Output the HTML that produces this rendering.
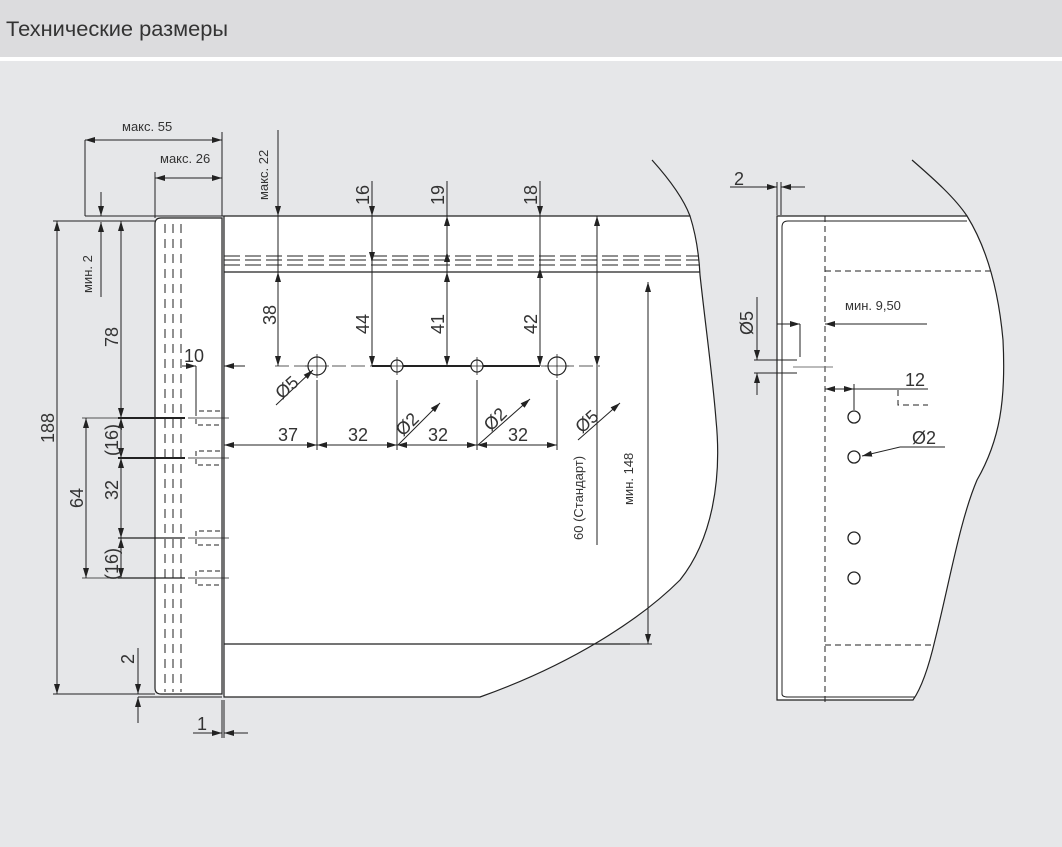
<!DOCTYPE html>
<html><head><meta charset="utf-8"><style>
html,body{margin:0;padding:0;width:1062px;height:847px;overflow:hidden;background:#e6e7e9;}
svg{display:block}
text{font-family:"Liberation Sans","DejaVu Sans",sans-serif;fill:#333;}
</style></head><body>
<svg width="1062" height="847" viewBox="0 0 1062 847" xmlns="http://www.w3.org/2000/svg">
<defs>
<marker id="a" viewBox="0 0 10 6" refX="10" refY="3" markerWidth="10" markerHeight="6" markerUnits="userSpaceOnUse" orient="auto-start-reverse"><path d="M0,0 L10,3 L0,6 z" fill="#222"/></marker>
</defs>
<rect x="0" y="0" width="1062" height="57" fill="#dcdcde"/>
<rect x="0" y="57" width="1062" height="4" fill="#fff"/>
<text x="6" y="36" font-size="21" fill="#2a2a2a" textLength="222" lengthAdjust="spacingAndGlyphs">Технические размеры</text>

<g stroke="#222" stroke-width="1.2" fill="none">
<path d="M224,216 L690,216 C696,235 699,255 700,275 C706,330 713,380 716,420 C722,480 712,540 680,580 C640,620 570,665 480,697 L224,697 Z" fill="#fff"/>
<path d="M652,160 C670,180 684,200 690,216"/>
<line x1="224" y1="272" x2="700" y2="272"/>
<line x1="224" y1="644" x2="630" y2="644"/>
<g stroke-dasharray="16,5" stroke-width="1">
<line x1="224" y1="256" x2="699" y2="256"/>
<line x1="224" y1="260" x2="699" y2="260"/>
<line x1="224" y1="265" x2="699" y2="265"/>
</g>
<path d="M222,218 L222,694 L161,694 Q155,694 155,688 L155,224 Q155,218 161,218 Z" fill="#fff"/>
<line x1="222" y1="697" x2="138" y2="697" stroke-width="1"/>
<g stroke-dasharray="9,6" stroke-width="1">
<line x1="165" y1="224" x2="165" y2="692"/>
<line x1="173" y1="224" x2="173" y2="692"/>
<line x1="181" y1="224" x2="181" y2="692"/>
</g>
<g stroke-dasharray="5,3" stroke-width="1">
<path d="M220,411 H196 V425 H220"/>
<path d="M220,451 H196 V465 H220"/>
<path d="M220,531 H196 V545 H220"/>
<path d="M220,571 H196 V585 H220"/>
</g>
<line x1="118" y1="418" x2="185" y2="418" stroke-width="2"/>
<line x1="118" y1="458" x2="185" y2="458" stroke-width="2"/>
<line x1="118" y1="538" x2="185" y2="538"/>
<line x1="118" y1="578" x2="185" y2="578"/>
<line x1="82" y1="418" x2="118" y2="418" stroke-width="0.8"/>
<line x1="82" y1="578" x2="118" y2="578" stroke-width="0.8"/>
<line x1="188" y1="418" x2="229" y2="418" stroke-width="0.8"/>
<line x1="188" y1="458" x2="229" y2="458" stroke-width="0.8"/>
<line x1="188" y1="538" x2="229" y2="538" stroke-width="0.8"/>
<line x1="188" y1="578" x2="229" y2="578" stroke-width="0.8"/>

<g stroke-width="1">
<line x1="85" y1="140" x2="85" y2="216"/>
<line x1="85" y1="216" x2="224" y2="216"/>
<line x1="222" y1="132" x2="222" y2="216"/>
<line x1="85" y1="140" x2="222" y2="140" marker-start="url(#a)" marker-end="url(#a)"/>
<line x1="155" y1="172" x2="155" y2="218"/>
<line x1="155" y1="178" x2="222" y2="178" marker-start="url(#a)" marker-end="url(#a)"/>
<line x1="101" y1="192" x2="101" y2="216" marker-end="url(#a)"/>
<line x1="101" y1="297" x2="101" y2="222" marker-end="url(#a)"/>
<line x1="53" y1="221" x2="155" y2="221"/>
<line x1="57" y1="221" x2="57" y2="694" marker-start="url(#a)" marker-end="url(#a)"/>
<line x1="53" y1="694" x2="155" y2="694"/>
<line x1="121" y1="221" x2="121" y2="418" marker-start="url(#a)" marker-end="url(#a)"/>
<line x1="121" y1="418" x2="121" y2="458" marker-start="url(#a)" marker-end="url(#a)"/>
<line x1="121" y1="458" x2="121" y2="538" marker-start="url(#a)" marker-end="url(#a)"/>
<line x1="121" y1="538" x2="121" y2="578" marker-start="url(#a)" marker-end="url(#a)"/>
<line x1="86" y1="418" x2="86" y2="578" marker-start="url(#a)" marker-end="url(#a)"/>
<line x1="182" y1="366" x2="196" y2="366" marker-end="url(#a)"/>
<line x1="245" y1="366" x2="224" y2="366" marker-end="url(#a)"/>
<line x1="196" y1="366" x2="196" y2="411"/>
<line x1="138" y1="648" x2="138" y2="694" marker-end="url(#a)"/>
<line x1="138" y1="723" x2="138" y2="697" marker-end="url(#a)"/>
<line x1="222" y1="700" x2="222" y2="738"/>
<line x1="224" y1="700" x2="224" y2="738"/>
<line x1="193" y1="733" x2="222" y2="733" marker-end="url(#a)"/>
<line x1="248" y1="733" x2="224" y2="733" marker-end="url(#a)"/>
</g>

<line x1="275" y1="366" x2="600" y2="366" stroke-width="0.8" stroke-dasharray="14,5"/>
<line x1="372" y1="366" x2="540" y2="366" stroke-width="2"/>
<circle cx="317" cy="366" r="9" fill="#fff"/>
<circle cx="397" cy="366" r="6" fill="#fff"/>
<circle cx="477" cy="366" r="6" fill="#fff"/>
<circle cx="557" cy="366" r="9" fill="#fff"/>
<g stroke-width="0.8">
<line x1="317" y1="354" x2="317" y2="378"/><line x1="305" y1="366" x2="329" y2="366"/>
<line x1="397" y1="357" x2="397" y2="375"/><line x1="388" y1="366" x2="406" y2="366"/>
<line x1="477" y1="357" x2="477" y2="375"/><line x1="468" y1="366" x2="486" y2="366"/>
<line x1="557" y1="354" x2="557" y2="378"/><line x1="545" y1="366" x2="569" y2="366"/>
</g>
<g stroke-width="1">
<line x1="278" y1="130" x2="278" y2="216" marker-end="url(#a)"/>
<line x1="278" y1="272" x2="278" y2="366" marker-start="url(#a)" marker-end="url(#a)"/>
<line x1="278" y1="216" x2="278" y2="272"/>
<line x1="372" y1="181" x2="372" y2="216" marker-end="url(#a)"/>
<line x1="372" y1="216" x2="372" y2="262" marker-end="url(#a)"/>
<line x1="372" y1="262" x2="372" y2="366" marker-end="url(#a)"/>
<line x1="447" y1="181" x2="447" y2="216"/>
<line x1="447" y1="252" x2="447" y2="216" marker-end="url(#a)"/>
<line x1="447" y1="252" x2="447" y2="272" marker-start="url(#a)"/>
<line x1="447" y1="272" x2="447" y2="366" marker-start="url(#a)" marker-end="url(#a)"/>
<line x1="540" y1="181" x2="540" y2="216" marker-end="url(#a)"/>
<line x1="540" y1="216" x2="540" y2="272"/>
<line x1="540" y1="268" x2="540" y2="366" marker-start="url(#a)" marker-end="url(#a)"/>
<line x1="597" y1="216" x2="597" y2="366" marker-start="url(#a)" marker-end="url(#a)"/>
<line x1="597" y1="366" x2="597" y2="545"/>
<line x1="648" y1="282" x2="648" y2="644" marker-start="url(#a)" marker-end="url(#a)"/>
<line x1="630" y1="644" x2="652" y2="644"/>
<line x1="317" y1="380" x2="317" y2="450"/>
<line x1="397" y1="380" x2="397" y2="450"/>
<line x1="477" y1="380" x2="477" y2="450"/>
<line x1="557" y1="380" x2="557" y2="450"/>
<line x1="224" y1="445" x2="317" y2="445" marker-start="url(#a)" marker-end="url(#a)"/>
<line x1="317" y1="445" x2="397" y2="445" marker-start="url(#a)" marker-end="url(#a)"/>
<line x1="397" y1="445" x2="477" y2="445" marker-start="url(#a)" marker-end="url(#a)"/>
<line x1="477" y1="445" x2="557" y2="445" marker-start="url(#a)" marker-end="url(#a)"/>
<line x1="276" y1="405" x2="313" y2="370" marker-end="url(#a)"/>
<line x1="398" y1="445" x2="440" y2="403" marker-end="url(#a)"/>
<line x1="478" y1="445" x2="530" y2="399" marker-end="url(#a)"/>
<line x1="578" y1="440" x2="620" y2="403" marker-end="url(#a)"/>
</g>

<path d="M777,216 L967,216 C985,245 998,285 1003,340 C1006,400 1000,440 977,480 C960,520 950,580 935,640 C928,670 920,690 913,700 L777,700 Z" fill="#fff"/>
<path d="M912,160 C935,180 955,198 967,216"/>
<path d="M967,221 L788,221 Q782,221 782,227 L782,694 Q782,697 788,697 L915,697" stroke-width="1"/>
<g stroke-dasharray="6,4" stroke-width="1">
<line x1="825" y1="216" x2="825" y2="706"/>
<line x1="825" y1="271" x2="993" y2="271"/>
<line x1="825" y1="645" x2="932" y2="645"/>
<path d="M898,390 V405 H928"/>
</g>
<g stroke-width="1">
<line x1="777" y1="182" x2="777" y2="215"/>
<line x1="781" y1="182" x2="781" y2="215"/>
<line x1="730" y1="187" x2="777" y2="187" marker-end="url(#a)"/>
<line x1="805" y1="187" x2="781" y2="187" marker-end="url(#a)"/>
<line x1="757" y1="297" x2="757" y2="360" marker-end="url(#a)"/>
<line x1="757" y1="395" x2="757" y2="373" marker-end="url(#a)"/>
<line x1="754" y1="360" x2="797" y2="360"/>
<line x1="754" y1="373" x2="797" y2="373"/>
<line x1="793" y1="367" x2="833" y2="367" stroke="#777"/>
<line x1="777" y1="324" x2="800" y2="324" marker-end="url(#a)"/>
<line x1="927" y1="324" x2="825" y2="324" marker-end="url(#a)"/>
<line x1="800" y1="324" x2="800" y2="357"/>
<line x1="825" y1="389" x2="928" y2="389"/>
<line x1="825" y1="389" x2="840" y2="389" marker-start="url(#a)"/>
<line x1="854" y1="389" x2="840" y2="389" marker-start="url(#a)"/>
<line x1="854" y1="384" x2="854" y2="410"/>
<line x1="945" y1="447" x2="900" y2="447"/>
<line x1="900" y1="447" x2="862" y2="456" marker-end="url(#a)"/>
</g>
<g stroke-width="1.3" fill="#fff">
<circle cx="854" cy="417" r="6"/>
<circle cx="854" cy="457" r="6"/>
<circle cx="854" cy="538" r="6"/>
<circle cx="854" cy="578" r="6"/>
</g>
</g>

<g font-size="13">
<text x="122" y="131">макс. 55</text>
<text x="160" y="163">макс. 26</text>
<text transform="translate(268,200) rotate(-90)">макс. 22</text>
<text transform="translate(92,293) rotate(-90)">мин. 2</text>
<text transform="translate(633,505) rotate(-90)">мин. 148</text>
<text transform="translate(583,540) rotate(-90)">60 (Стандарт)</text>
<text x="845" y="310">мин. 9,50</text>
</g>
<g font-size="18">
<text x="184" y="362">10</text>
<text x="278" y="441">37</text>
<text x="348" y="441">32</text>
<text x="428" y="441">32</text>
<text x="508" y="441">32</text>
<text x="734" y="185">2</text>
<text x="905" y="386">12</text>
<text x="912" y="444">Ø2</text>
<text x="197" y="730">1</text>
<text transform="translate(369,205) rotate(-90)">16</text>
<text transform="translate(444,205) rotate(-90)">19</text>
<text transform="translate(537,205) rotate(-90)">18</text>
<text transform="translate(276,325) rotate(-90)">38</text>
<text transform="translate(369,334) rotate(-90)">44</text>
<text transform="translate(444,334) rotate(-90)">41</text>
<text transform="translate(537,334) rotate(-90)">42</text>
<text transform="translate(54,443) rotate(-90)">188</text>
<text transform="translate(118,347) rotate(-90)">78</text>
<text transform="translate(118,456) rotate(-90)">(16)</text>
<text transform="translate(118,500) rotate(-90)">32</text>
<text transform="translate(118,580) rotate(-90)">(16)</text>
<text transform="translate(83,508) rotate(-90)">64</text>
<text transform="translate(134,664) rotate(-90)">2</text>
<text transform="translate(753,335) rotate(-90)">Ø5</text>
<text transform="translate(282,400) rotate(-42)">Ø5</text>
<text transform="translate(403,437) rotate(-45)">Ø2</text>
<text transform="translate(491,432) rotate(-45)">Ø2</text>
<text transform="translate(582,434) rotate(-42)">Ø5</text>
</g>
</svg>
</body></html>
